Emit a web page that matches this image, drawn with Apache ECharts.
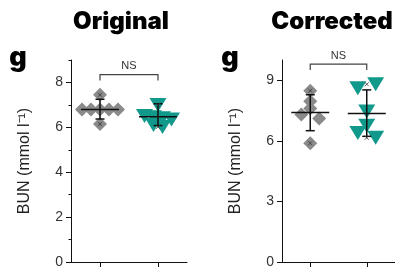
<!DOCTYPE html>
<html><head><meta charset="utf-8">
<script src="https://cdn.jsdelivr.net/npm/echarts@6/dist/echarts.min.js"></script>
<style>html,body{margin:0;padding:0;background:#fff}#c{width:395px;height:269px}</style>
</head><body><div id="c"></div>
<script>
// ---- data ----
const panelTitles = ['Original', 'Corrected'];
const panelLetter = 'g';
const sigLabel = 'NS';
const yAxisTitle = 'BUN (mmol l\u207B\u00B9)';

const origGroup1 = [7.45, 6.8, 6.8, 6.8, 6.8, 6.8, 6.15];
const origGroup2 = [7.0, 6.5, 6.45, 6.4, 6.35, 6.1, 6.02];
const origCenter = [6.8, 6.47];
const origErrLow = [6.37, 6.08];
const origErrHigh = [7.25, 7.05];
const origYMax = 9;
const origYTicks = [0, 2, 4, 6, 8];
const origYMinorTicks = [1, 3, 5, 7, 9];

const corrGroup1 = [8.48, 7.96, 7.6, 7.3, 7.1, 5.88];
const corrGroup2 = [8.6, 8.8, 7.45, 6.75, 6.38, 6.15];
const corrCenter = [7.4, 7.35];
const corrErrLow = [6.5, 6.22];
const corrErrHigh = [8.28, 8.52];
const corrYMax = 10;
const corrYTicks = [0, 3, 6, 9];

// ---- layout ----
const G = [
  {left: 71, top: 60, width: 116, height: 205, spacing: 9},
  {left: 282, top: 60, width: 114, height: 204, spacing: 18}
];
const GREY = '#8a8a8a', TEAL = '#11998b', INK = '#111';

function swarm(values, pxY, pxX, spacing) {
  const idx = values.map((v, i) => i).sort((a, b) => values[a] - values[b] || a - b);
  const rows = []; let cur = [idx[0]];
  for (let k = 1; k < idx.length; k++) {
    if ((values[idx[k]] - values[idx[k - 1]]) * pxY < 5) cur.push(idx[k]);
    else { rows.push(cur); cur = [idx[k]]; }
  }
  rows.push(cur);
  const off = new Array(values.length).fill(0);
  rows.forEach(r => { r.sort((a, b) => a - b); r.forEach((i, j) => { off[i] = (j - (r.length - 1) / 2) * spacing / pxX; }); });
  return off;
}

function pointsData(values, gi, g, yMax) {
  const pxY = g.height / yMax, pxX = g.width / 2;
  const off = swarm(values, pxY, pxX, g.spacing);
  return values.map((v, i) => [gi + off[i], v]);
}

function errRender(params, api) {
  const x = api.value(0);
  const pc = api.coord([x, api.value(1)]);
  const pl = api.coord([x, api.value(2)]);
  const ph = api.coord([x, api.value(3)]);
  const st = {stroke: INK, lineWidth: 1.5};
  return {type: 'group', children: [
    {type: 'line', shape: {x1: pc[0] - 19, y1: pc[1], x2: pc[0] + 19, y2: pc[1]}, style: st},
    {type: 'line', shape: {x1: pl[0], y1: pl[1], x2: ph[0], y2: ph[1]}, style: st},
    {type: 'line', shape: {x1: pl[0] - 4.5, y1: pl[1], x2: pl[0] + 4.5, y2: pl[1]}, style: st},
    {type: 'line', shape: {x1: ph[0] - 4.5, y1: ph[1], x2: ph[0] + 4.5, y2: ph[1]}, style: st}
  ]};
}

function bracketRender(params, api) {
  const y = api.value(2);
  const a = api.coord([api.value(0), y]);
  const b = api.coord([api.value(1), y]);
  return {type: 'group', children: [
    {type: 'polyline', shape: {points: [[a[0], a[1] + 6], a, b, [b[0], b[1] + 6]]},
     style: {stroke: '#444', lineWidth: 1.2, fill: null}},
    {type: 'text', x: (a[0] + b[0]) / 2, y: a[1] - 3,
     style: {text: sigLabel, fontSize: 11, fontFamily: 'Liberation Sans', fill: '#333', textAlign: 'center', textVerticalAlign: 'bottom'}}
  ]};
}

const cross = 'path://M0,0L10,10M10,0L0,10';

function panelSeries(p, g1, g2, center, lo, hi, yMax) {
  const g = G[p];
  const xi = p, yi = p === 0 ? 0 : 2;
  const maxAll = Math.max(...g1, ...g2);
  return [
    {type: 'scatter', xAxisIndex: xi, yAxisIndex: yi, symbol: 'diamond', symbolSize: 14,
     itemStyle: {color: GREY, opacity: 1}, data: pointsData(g1, 0, g, yMax), z: 2, silent: true},
    {type: 'scatter', xAxisIndex: xi, yAxisIndex: yi, symbol: 'triangle', symbolRotate: 180, symbolSize: [17, 14],
     itemStyle: {color: TEAL, opacity: 1}, data: pointsData(g2, 1, g, yMax), z: 2, silent: true},
    {type: 'custom', xAxisIndex: xi, yAxisIndex: yi, renderItem: errRender, z: 3,
     encode: {x: 0, y: 1},
     data: [0, 1].map(i => [i, center[i], lo[i], hi[i]])},
    {type: 'scatter', xAxisIndex: xi, yAxisIndex: yi, symbol: cross, symbolSize: 4, z: 4,
     itemStyle: {color: 'none', borderColor: '#333', borderWidth: 1},
     data: [[0, Math.max(...g1)], [0, Math.min(...g1)], [1, Math.max(...g2)], [1, Math.min(...g2)]]},
    {type: 'custom', xAxisIndex: xi, yAxisIndex: yi, renderItem: bracketRender, z: 3,
     encode: {x: 0, y: 2},
     data: [[0, 1, maxAll + 0.1 * yMax]]}
  ];
}

const axisLabelStyle = {fontSize: 14, color: '#333', fontFamily: 'Liberation Sans', margin: 8};
function xAxis(gi) {
  return {type: 'value', gridIndex: gi, min: -0.5, max: 1.5, position: 'bottom', splitLine: {show: false},
    axisLine: {onZero: false, lineStyle: {color: INK, width: 1}},
    axisTick: {customValues: [0, 1], length: 5, lineStyle: {color: INK}},
    axisLabel: {show: false}};
}
function yAxisMain(gi, yMax, ticks) {
  return {type: 'value', gridIndex: gi, position: 'left', offset: 0, min: 0, max: yMax, interval: 1, splitLine: {show: false},
    axisLine: {show: true, onZero: false, lineStyle: {color: INK, width: 1}},
    axisTick: {show: true, customValues: ticks, length: 5, lineStyle: {color: INK}},
    axisLabel: Object.assign({customValues: ticks}, axisLabelStyle),
    name: yAxisTitle, nameLocation: 'middle', nameRotate: 90, nameGap: 38,
    nameTextStyle: {fontSize: 16, color: '#222', fontFamily: 'Liberation Sans'}};
}

const chart = echarts.init(document.getElementById('c'), null, {renderer: 'canvas'});
chart.setOption({
  animation: false,
  grid: G.map(g => ({left: g.left, top: g.top, width: g.width, height: g.height, containLabel: false})),
  xAxis: [xAxis(0), xAxis(1)],
  yAxis: [
    yAxisMain(0, origYMax, origYTicks),
    {type: 'value', gridIndex: 0, position: 'left', offset: 0, min: 0, max: origYMax, interval: 1, splitLine: {show: false},
     axisLine: {show: false, onZero: false}, axisLabel: {show: false},
     axisTick: {show: true, customValues: origYMinorTicks, length: 2.5, lineStyle: {color: INK}}},
    yAxisMain(1, corrYMax, corrYTicks)
  ],
  graphic: [
    {type: 'text', x: 121, y: 22, style: {text: panelTitles[0], fontSize: 24, fontWeight: 900, fontFamily: 'Inter', fill: '#000', textAlign: 'center', textVerticalAlign: 'middle'}},
    {type: 'text', x: 332, y: 22, style: {text: panelTitles[1], fontSize: 24, fontWeight: 900, fontFamily: 'Inter', fill: '#000', textAlign: 'center', textVerticalAlign: 'middle'}},
    {type: 'text', x: 18, y: 58, style: {text: panelLetter, fontSize: 27, fontWeight: 900, fontFamily: 'Inter', fill: '#000', textAlign: 'center', textVerticalAlign: 'middle'}},
    {type: 'text', x: 230, y: 58, style: {text: panelLetter, fontSize: 27, fontWeight: 900, fontFamily: 'Inter', fill: '#000', textAlign: 'center', textVerticalAlign: 'middle'}}
  ],
  series: [
    ...panelSeries(0, origGroup1, origGroup2, origCenter, origErrLow, origErrHigh, origYMax),
    ...panelSeries(1, corrGroup1, corrGroup2, corrCenter, corrErrLow, corrErrHigh, corrYMax)
  ]
});
</script></body></html>
